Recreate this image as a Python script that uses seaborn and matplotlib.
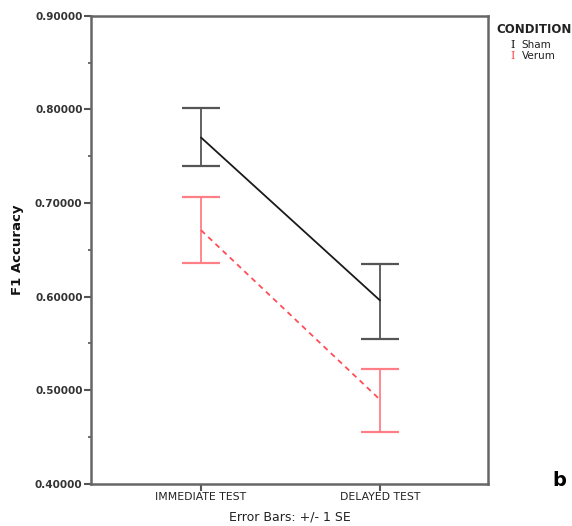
import matplotlib
matplotlib.use('Agg')
import matplotlib.pyplot as plt
import seaborn as sns
import pandas as pd

# Medias y errores (+/- 1 SE)
tests = ['IMMEDIATE TEST', 'DELAYED TEST']
conditions = ['Sham', 'Verum']
sham_mean = [0.770, 0.596]
sham_upper = [0.802, 0.635]
sham_lower = [0.740, 0.555]
verum_mean = [0.671, 0.490]
verum_upper = [0.706, 0.523]
verum_lower = [0.636, 0.455]

y_ticks = [0.4, 0.5, 0.6, 0.7, 0.8, 0.9]

df = pd.DataFrame({
    'test': [0, 1, 0, 1],
    'accuracy': sham_mean + verum_mean,
    'condition': ['Sham', 'Sham', 'Verum', 'Verum'],
})

sns.set_style('ticks')
plt.rcParams['font.family'] = ['DejaVu Sans']

fig = plt.figure(figsize=(5.72, 5.26), dpi=100)
ax = fig.add_axes([0.159, 0.080, 0.694, 0.890])

line_col = {'Sham': '#1a1a1a', 'Verum': '#ff4d55'}
bar_col = {'Sham': '#555555', 'Verum': '#ff7f86'}

sns.lineplot(data=df, x='test', y='accuracy', hue='condition', style='condition',
             palette=line_col, dashes={'Sham': '', 'Verum': (3, 2.5)},
             linewidth=1.3, legend=False, ax=ax)

for cond, mean, up, lo in [('Sham', sham_mean, sham_upper, sham_lower),
                           ('Verum', verum_mean, verum_upper, verum_lower)]:
    yerr = [[m - l for m, l in zip(mean, lo)], [u - m for m, u in zip(mean, up)]]
    ax.errorbar([0, 1], mean, yerr=yerr, fmt='none', ecolor=bar_col[cond],
                elinewidth=1.3, capsize=14, capthick=1.6, zorder=1)

ax.set_xlim(-0.615, 1.603)
ax.set_ylim(0.4, 0.9)
ax.set_xticks([0, 1])
ax.set_xticklabels(tests, fontsize=7.8, color='#222222')
ax.set_yticks(y_ticks)
ax.set_yticklabels(['%.5f' % v for v in y_ticks], fontsize=7.5, color='#333333',
                   fontweight='bold')
ax.set_yticks([0.45, 0.55, 0.65, 0.75, 0.85], minor=True)
ax.tick_params(axis='both', which='major', direction='out', length=5, width=1.5,
               color='#555555', pad=1)
ax.tick_params(axis='y', which='minor', direction='out', length=2.5, width=1.2,
               color='#555555')
for s in ax.spines.values():
    s.set_color('#666666')
    s.set_linewidth(1.8)

ax.set_xlabel('Error Bars: +/- 1 SE', fontsize=9, color='#222222', labelpad=6)
ax.set_ylabel('F1 Accuracy', fontsize=9.5, fontweight='bold', color='#111111',
              labelpad=8)

# Leyenda a mano como en el original
fig.text(0.867, 0.943, 'CONDITION', fontsize=8.5, fontweight='bold', color='#222222',
         va='center', ha='left')
for i, cond in enumerate(conditions):
    yy = 0.914 - i * 0.021
    fig.text(0.893, yy, 'I', fontsize=8, family='DejaVu Serif', color=line_col[cond],
             va='center', ha='left')
    fig.text(0.912, yy, cond, fontsize=7.5, color='#222222', va='center', ha='left')

fig.text(0.978, 0.086, 'b', fontsize=14, fontweight='bold', color='black',
         va='center', ha='center')

fig.savefig('out.png', dpi=100)
